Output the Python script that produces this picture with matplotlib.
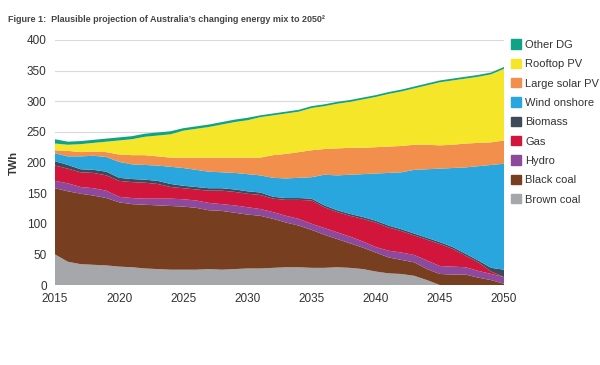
import matplotlib
matplotlib.use("Agg")
import matplotlib.pyplot as plt
import matplotlib.patches as mpatches
import numpy as np

plt.rcParams['font.family'] = ['Liberation Sans', 'DejaVu Sans']

years = list(range(2015, 2051))

brown_coal = [50, 38, 34, 33, 32, 30, 29, 27, 26, 25, 25, 25, 26, 25, 26, 27, 27, 28,
              29, 29, 28, 28, 29, 28, 26, 22, 19, 18, 15, 8, 0, 0, 0, 0, 0, 0]
black_coal = [108, 115, 115, 113, 110, 105, 103, 104, 104, 104, 103, 101, 96, 96, 92, 88, 86, 80,
              73, 68, 62, 54, 46, 40, 35, 31, 26, 23, 22, 18, 18, 17, 17, 12, 8, 2]
hydro = [12, 13, 11, 12, 12, 9, 10, 10, 11, 12, 12, 12, 12, 11, 12, 12, 11, 11,
         11, 11, 10, 11, 11, 11, 10, 9, 11, 12, 12, 14, 13, 13, 12, 11, 10, 11]
gas = [25, 24, 24, 25, 25, 26, 26, 26, 24, 19, 18, 18, 20, 22, 22, 22, 23, 22,
       26, 31, 38, 34, 33, 34, 37, 40, 38, 35, 32, 34, 36, 29, 19, 14, 4, 0]
biomass = [7, 6, 5, 5, 6, 5, 5, 5, 5, 5, 4, 4, 4, 4, 4, 4, 4, 3,
           3, 3, 3, 3, 3, 3, 3, 3, 3, 3, 3, 3, 3, 3, 3, 3, 6, 12]
wind = [13, 14, 21, 23, 24, 26, 24, 24, 25, 28, 29, 28, 27, 26, 27, 28, 28, 31,
        32, 33, 35, 50, 57, 64, 70, 77, 86, 93, 104, 112, 120, 129, 141, 154, 168, 173]
large_solar = [5, 9, 7, 7, 8, 12, 15, 16, 15, 15, 17, 20, 23, 24, 25, 27, 29, 37,
               40, 42, 44, 42, 44, 44, 43, 43, 43, 43, 41, 40, 38, 38, 39, 38, 37, 38]
rooftop_pv = [11, 10, 13, 14, 17, 23, 26, 30, 34, 38, 44, 47, 50, 54, 58, 61, 66, 65,
              66, 66, 69, 70, 73, 75, 79, 82, 86, 89, 92, 97, 103, 105, 106, 108, 111, 117]
other_dg = [7, 5, 5, 5, 5, 5, 5, 5, 5, 5, 4, 4, 4, 4, 4, 4, 3, 3,
            3, 3, 3, 3, 3, 3, 3, 3, 3, 3, 3, 3, 3, 3, 3, 3, 3, 3]

labels = ["Brown coal", "Black coal", "Hydro", "Gas", "Biomass",
          "Wind onshore", "Large solar PV", "Rooftop PV", "Other DG"]
colors = ["#a6a7aa", "#773f20", "#8d4a9c", "#d2163b", "#3c4a5a",
          "#2aa6de", "#f38f4d", "#f6e629", "#0ea386"]

fig = plt.figure(figsize=(6, 3.65), dpi=100)
ax = fig.add_axes([55 / 600, 1 - 285 / 365, 449 / 600, 245 / 365])

ax.stackplot(years, brown_coal, black_coal, hydro, gas, biomass, wind,
             large_solar, rooftop_pv, other_dg, colors=colors, linewidth=0)

ax.set_xlim(2015, 2050)
ax.set_ylim(0, 400)
ax.set_xticks(range(2015, 2051, 5))
ax.set_yticks(range(0, 401, 50))
ax.grid(axis="y", color="#d9d9d9", linewidth=0.8)
ax.set_axisbelow(True)
for s in ax.spines.values():
    s.set_visible(False)
ax.tick_params(length=0, labelsize=8.5, colors="#333333", pad=6)
ax.tick_params(axis="y", pad=6)
ax.set_ylabel("TWh", fontsize=8, fontweight="bold", color="#333333", labelpad=6)

fig.text(8 / 600, 1 - 20 / 365,
         "Figure 1:  Plausible projection of Australia\u2019s changing energy mix to 2050\u00b2",
         fontsize=6.5, fontweight="bold", color="#444444", va="center")

handles = [mpatches.Patch(color=c, label=l) for c, l in zip(colors, labels)][::-1]
fig.legend(handles=handles, loc="upper left", bbox_to_anchor=(507 / 600, 1 - 35 / 365),
           frameon=False, fontsize=8, handlelength=0.9, handleheight=0.9,
           handletextpad=0.35, labelspacing=0.8, labelcolor="#333333",
           borderaxespad=0)

fig.savefig("out.png", dpi=100)
